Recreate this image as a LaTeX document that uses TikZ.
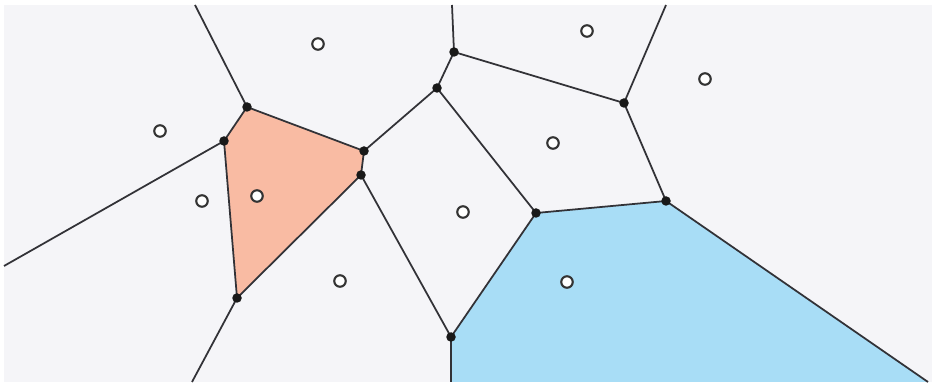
\documentclass[tikz,border=0pt]{standalone}
\definecolor{cellbg}{RGB}{245,245,248}
\definecolor{cellorange}{RGB}{249,187,163}
\definecolor{cellblue}{RGB}{168,221,246}
\definecolor{edgegray}{RGB}{50,50,55}
\pgfdeclarelayer{background}
\pgfsetlayers{background,main}

\begin{document}
\begin{tikzpicture}[x=0.02cm, y=-0.02cm,
  vtx/.style={circle, fill=black!90, inner sep=0pt, minimum size=0.19cm},
  site/.style={circle, draw=black!80, fill=white, line width=1.2pt, inner sep=0pt, minimum size=0.23cm},
  edge/.style={draw=edgegray, line width=1pt}]
  \useasboundingbox (0,0) rectangle (933,384);

  % Voronoi vertices
  \node[vtx] (v1) at (247,107) {};
  \node[vtx] (v2) at (224,141) {};
  \node[vtx] (v3) at (364,151) {};
  \node[vtx] (v4) at (361,175) {};
  \node[vtx] (v5) at (237,298) {};
  \node[vtx] (v6) at (437,88) {};
  \node[vtx] (v7) at (454,52) {};
  \node[vtx] (v8) at (624,103) {};
  \node[vtx] (v9) at (536,213) {};
  \node[vtx] (v10) at (666,201) {};
  \node[vtx] (v11) at (451,337) {};

  % open ends on the frame
  \coordinate (e1) at (195,5);
  \coordinate (e2) at (4,266);
  \coordinate (e5) at (192,382);
  \coordinate (e7) at (452,5);
  \coordinate (e8) at (666,5);
  \coordinate (e10) at (928,382);
  \coordinate (e11) at (451,382);

  \begin{pgfonlayer}{background}
    \fill[white] (0,0) rectangle (933,384);
    \fill[cellbg] (4,5) rectangle (932,382);

    % Highlighted cells
    \fill[cellorange] (v1.center) -- (v3.center) -- (v4.center) -- (v5.center) -- (v2.center) -- cycle;
    \fill[cellblue] (v11.center) -- (v9.center) -- (v10.center) -- (e10) -- (e11) -- cycle;

    % Edges
    \draw[edge] (e1) -- (v1.center);
    \draw[edge] (e2) -- (v2.center);
    \draw[edge] (v1.center) -- (v2.center);
    \draw[edge] (v1.center) -- (v3.center);
    \draw[edge] (v3.center) -- (v4.center);
    \draw[edge] (v4.center) -- (v5.center);
    \draw[edge] (v5.center) -- (v2.center);
    \draw[edge] (v5.center) -- (e5);
    \draw[edge] (v3.center) -- (v6.center);
    \draw[edge] (v6.center) -- (v7.center);
    \draw[edge] (v7.center) -- (e7);
    \draw[edge] (v7.center) -- (v8.center);
    \draw[edge] (v8.center) -- (e8);
    \draw[edge] (v6.center) -- (v9.center);
    \draw[edge] (v8.center) -- (v10.center);
    \draw[edge] (v9.center) -- (v10.center);
    \draw[edge] (v10.center) -- (e10);
    \draw[edge] (v4.center) -- (v11.center);
    \draw[edge] (v11.center) -- (v9.center);
    \draw[edge] (v11.center) -- (e11);
  \end{pgfonlayer}

  % Sites
  \node[site] (s1) at (318,44) {};
  \node[site] (s2) at (160,131) {};
  \node[site] (s3) at (202,201) {};
  \node[site] (s4) at (257,196) {};
  \node[site] (s5) at (340,281) {};
  \node[site] (s6) at (463,212) {};
  \node[site] (s7) at (587,31) {};
  \node[site] (s8) at (705,79) {};
  \node[site] (s9) at (553,143) {};
  \node[site] (s10) at (567,282) {};
\end{tikzpicture}
\end{document}
